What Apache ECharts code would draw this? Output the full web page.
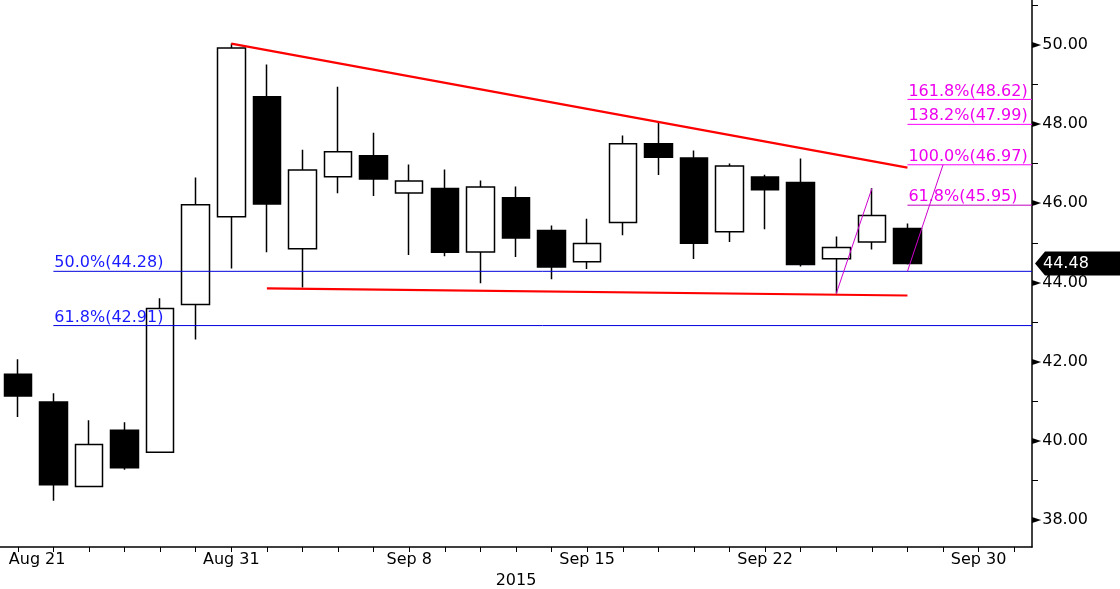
<!DOCTYPE html>
<html>
<head>
<meta charset="utf-8">
<script src="https://cdn.jsdelivr.net/npm/echarts@6/dist/echarts.min.js"></script>
<style>
html,body{margin:0;padding:0;background:#fff;}
#chart{width:1120px;height:589px;}
</style>
</head>
<body>
<div id="chart"></div>
<script>
// categories (trading days; last three are empty space up to the right axis)
const dates = ['Aug 21','Aug 24','Aug 25','Aug 26','Aug 27','Aug 28','Aug 31','Sep 1','Sep 2','Sep 3','Sep 4',
  'Sep 8','Sep 9','Sep 10','Sep 11','Sep 14','Sep 15','Sep 16','Sep 17','Sep 18','Sep 21','Sep 22','Sep 23',
  'Sep 24','Sep 25','Sep 28','Sep 29','Sep 30','Oct 1'];
const labelDates = ['Aug 31','Sep 8','Sep 15','Sep 22','Sep 30'];
const firstLabel = 'Aug 21';
const opens  = [41.68,40.98,38.85,40.27,39.71,43.44,45.66,48.69,44.85,46.67,47.20,46.26,46.37,44.77,46.14,45.31,44.52,45.51,47.50,47.14,45.28,46.66,46.52,44.60,45.02,45.36];
const closes = [41.13,38.89,39.91,39.32,43.34,45.96,49.92,45.98,46.84,47.30,46.61,46.56,44.76,46.41,45.12,44.39,44.98,47.50,47.16,44.99,46.94,46.34,44.45,44.88,45.69,44.48];
const lows   = [40.60,38.49,38.85,39.27,39.70,42.56,44.35,44.76,43.87,46.25,46.18,44.69,44.66,43.98,44.64,44.08,44.34,45.19,46.71,44.59,45.02,45.34,44.40,43.72,44.83,44.45];
const highs  = [42.06,41.20,40.52,40.47,43.60,46.65,50.03,49.50,47.35,48.94,47.78,46.98,46.85,46.57,46.42,45.44,45.61,47.71,48.03,47.33,47.00,46.72,47.13,45.16,46.38,45.49];
const lastPrice = 44.48;
// y-axis ticks
const yMin = 37.32, yMax = 51.13;
const yLabelValues = [38,40,42,44,46,48,50];
const yTickValues = [38,39,40,41,42,43,44,45,46,47,48,49,50,51];
// retracement levels (blue) and projection levels (magenta)
const retraceLevels = [{txt:'50.0%(44.28)', v:44.28},{txt:'61.8%(42.91)', v:42.91}];
const projLevels = [{txt:'161.8%(48.62)', v:48.62, c:'#ff00ff'},{txt:'138.2%(47.99)', v:47.99, c:'#ff00ff'},
  {txt:'100.0%(46.97)', v:46.97, c:'#ff00ff'},{txt:'61.8%(45.95)', v:45.95, c:'#c000c0'}];
// trend lines [index, value]
const upperTrend = [[6,50.03],[25,46.90]];
const lowerTrend = [[7,43.85],[25,43.67]];
const projLeg1 = [[23,43.72],[24,46.37]];
const projLeg2 = [[25,44.28],[26,46.97]];
const retraceStart = 1, projStart = 25, rightEnd = 28.5;

const candleData = opens.map((o,i)=>[o, closes[i], lows[i], highs[i]]);
const FONT = 'DejaVu Sans';

function levelSeries(lv, x0, color, lineColor){
  return {
    type:'line', xAxisIndex:1, yAxisIndex:0, silent:true, z:3,
    symbol:'circle', symbolSize:0.1, showSymbol:true,
    lineStyle:{color:lineColor||color, width:1},
    itemStyle:{color:lineColor||color},
    data:[
      {value:[x0, lv.v], label:{show:true, formatter:lv.txt, position:[1,0], align:'left', verticalAlign:'bottom',
        color:color, fontFamily:FONT, fontSize:16}},
      {value:[rightEnd, lv.v]}
    ]
  };
}

const series = [{
  type:'candlestick', xAxisIndex:0, yAxisIndex:0, data:candleData, barWidth:28, z:2,
  itemStyle:{color:'#ffffff', color0:'#000000', borderColor:'#000000', borderColor0:'#000000', borderWidth:1.5}
}];
retraceLevels.forEach(l=>series.push(levelSeries(l, retraceStart, '#1a1aff', '#0000dd')));
projLevels.forEach(l=>series.push(levelSeries(l, projStart, '#ee00ee', l.c)));
[[upperTrend,'#ff0000',2.2],[lowerTrend,'#ff0000',2.2],[projLeg1,'#d000d0',1],[projLeg2,'#d000d0',1]].forEach(([d,c,w])=>{
  series.push({type:'line', xAxisIndex:1, yAxisIndex:0, silent:true, z:4, symbol:'none',
    lineStyle:{color:c, width:w}, data:d});
});

const chart = echarts.init(document.getElementById('chart'), null, {renderer:'canvas'});
chart.setOption({
  animation:false,
  backgroundColor:'#ffffff',
  grid:{left:0, right:88, top:0, bottom:42, containLabel:false, outerBoundsMode:'none'},
  xAxis:[{
    type:'category', data:dates, boundaryGap:true,
    axisLine:{show:true, onZero:false, lineStyle:{color:'#000', width:1.5}},
    axisTick:{show:true, alignWithLabel:true, interval:0, length:5, lineStyle:{color:'#000'}},
    axisLabel:{interval:(i,v)=>labelDates.indexOf(v)>=0, color:'#000', fontFamily:FONT, fontSize:16, margin:5},
    splitLine:{show:false},
    name:'2015', nameLocation:'middle', nameGap:23,
    nameTextStyle:{color:'#000', fontFamily:FONT, fontSize:16, verticalAlign:'top'}
  },{
    type:'value', min:-0.5, max:28.5, show:false
  }],
  yAxis:[{
    type:'value', position:'right', min:yMin, max:yMax, scale:true,
    axisLine:{show:true, onZero:false, lineStyle:{color:'#000', width:1.5}},
    axisTick:{show:true, customValues:yTickValues, length:6, lineStyle:{color:'#000'}},
    axisLabel:{customValues:yLabelValues, margin:0, color:'#000', fontFamily:FONT, fontSize:16,
      formatter:v=>'{t|►}'+Number(v).toFixed(2),
      rich:{t:{fontSize:12, color:'#000', padding:[0,1,0,0]}}},
    splitLine:{show:false}
  }],
  series:series
});

// last price tag on the right axis and the clipped first date label
const py = chart.convertToPixel({yAxisIndex:0}, lastPrice);
const ax = chart.convertToPixel({xAxisIndex:1}, rightEnd);
const x0 = chart.convertToPixel({xAxisIndex:0}, firstLabel);
const axisY = chart.convertToPixel({yAxisIndex:0}, yMin);
chart.setOption({graphic:[{
  type:'polygon', z:100,
  shape:{points:[[ax+3,py],[ax+13,py-12],[1120,py-12],[1120,py+12],[ax+13,py+12]]},
  style:{fill:'#000'}
},{
  type:'text', z:101, x:ax+11, y:py,
  style:{text:lastPrice.toFixed(2), fill:'#fff', font:'16px "DejaVu Sans"', textVerticalAlign:'middle', textAlign:'left'}
},{
  type:'text', z:101, x:x0-9, y:axisY+5,
  style:{text:firstLabel, fill:'#000', font:'16px "DejaVu Sans"', textVerticalAlign:'top', textAlign:'left'}
}]});
</script>
</body>
</html>
